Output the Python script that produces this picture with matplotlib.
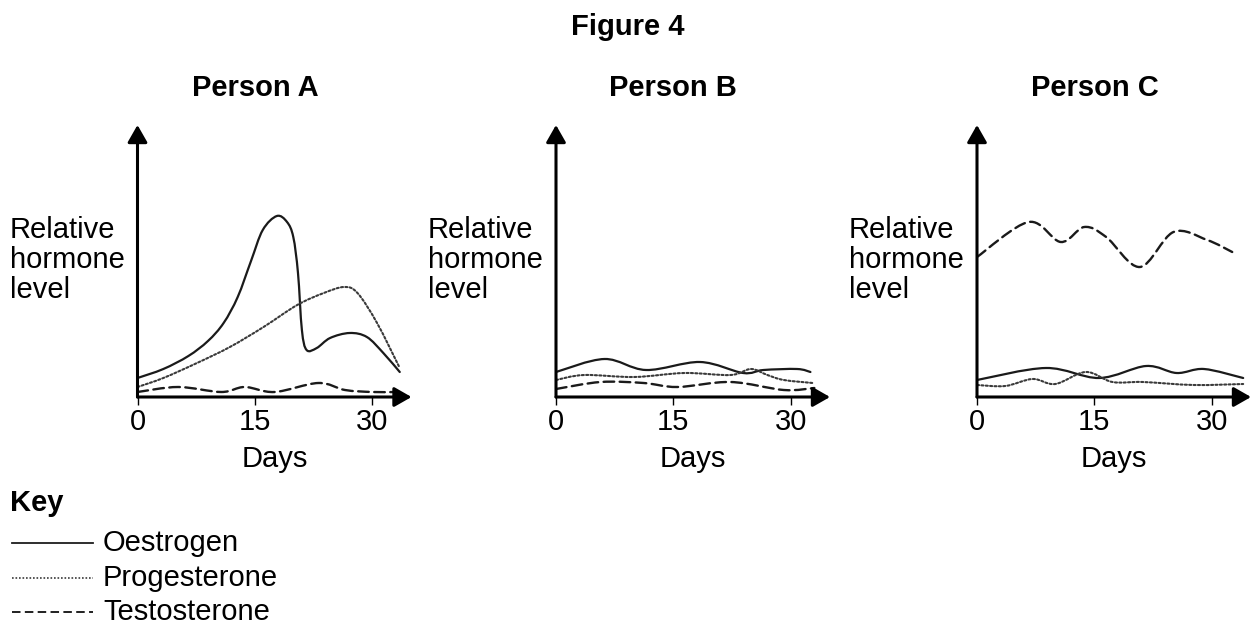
import numpy as np
import matplotlib.pyplot as plt
from matplotlib.path import Path
from matplotlib.patches import PathPatch
from matplotlib.lines import Line2D

plt.rcParams['font.family'] = ['Liberation Sans', 'DejaVu Sans']

# values (days, relative level)
persons = ['Person A', 'Person B', 'Person C']
hormones = ['Oestrogen', 'Progesterone', 'Testosterone']
day_ticks = [0, 15, 30]

a_oes_x = [0, 3.3, 6.5, 9.0, 11.0, 12.8, 14.5, 16.0, 17.8, 19.1, 19.9, 20.5, 21.0, 21.6, 22.9, 24.6, 27.1, 29.3, 31.4, 33.5]
a_oes_y = [19, 28, 41, 56, 74, 100, 136, 167, 181, 175, 160, 124, 67, 47, 49, 59, 64, 60, 44, 25]
a_pro_x = [0, 3.3, 7.6, 11.8, 16.1, 20.4, 23.8, 26.4, 28.1, 30.6, 33.5]
a_pro_y = [10, 19, 34, 50, 70, 92, 104, 110, 104, 74, 29]
a_tes_x = [0, 5.2, 10.7, 13.7, 17.5, 23.1, 26.5, 30.0, 32.9]
a_tes_y = [5, 10, 5, 10, 5, 14, 7, 5, 5]

b_oes_x = [0, 6.2, 11.5, 18.4, 23.9, 26.5, 30.8, 32.5]
b_oes_y = [25, 38, 27, 35, 24, 27, 28, 25]
b_pro_x = [0, 3.6, 10.0, 16.4, 22.3, 24.9, 27.0, 29.1, 32.8]
b_pro_y = [17, 22, 20, 24, 22, 28, 22, 17, 14]
b_tes_x = [0, 5.7, 11.2, 15.5, 22.3, 29.1, 33.0]
b_tes_y = [8, 15, 14, 10, 15, 7, 9]

c_oes_x = [0, 8.8, 15.6, 21.6, 25.5, 29.0, 34.0]
c_oes_y = [17, 29, 19, 31, 24, 28, 19]
c_pro_x = [0, 3.6, 7.1, 10.0, 13.9, 17.3, 21.2, 27.7, 34.0]
c_pro_y = [12, 11, 18, 13, 25, 15, 15, 12, 13]
c_tes_x = [0, 6.6, 10.7, 13.7, 16.5, 20.8, 25.1, 29.4, 32.6]
c_tes_y = [140, 175, 155, 170, 160, 130, 165, 157, 145]

series = [
    [(a_oes_x, a_oes_y), (a_pro_x, a_pro_y), (a_tes_x, a_tes_y)],
    [(b_oes_x, b_oes_y), (b_pro_x, b_pro_y), (b_tes_x, b_tes_y)],
    [(c_oes_x, c_oes_y), (c_pro_x, c_pro_y), (c_tes_x, c_tes_y)],
]

styles = {
    'Oestrogen': dict(linestyle='-', linewidth=1.6, edgecolor='#1a1a1a'),
    'Progesterone': dict(linestyle=(0, (1, 1.1)), linewidth=1.5, edgecolor='#3a3a3a'),
    'Testosterone': dict(linestyle=(0, (4.5, 2.3)), linewidth=1.7, edgecolor='#1a1a1a'),
}


def smooth_path(x, y):
    # smooth curve through the read points (Catmull-Rom as cubic Bezier)
    p = np.column_stack([x, y]).astype(float)
    ext = np.vstack([p[0], p, p[-1]])
    verts = [p[0]]
    codes = [Path.MOVETO]
    for i in range(len(p) - 1):
        p0, p1, p2, p3 = ext[i], ext[i + 1], ext[i + 2], ext[i + 3]
        verts += [p1 + (p2 - p0) / 6, p2 - (p3 - p1) / 6, p2]
        codes += [Path.CURVE4] * 3
    return Path(verts, codes)


W, H = 1255, 629
fig = plt.figure(figsize=(W / 100, H / 100), dpi=100)
FS = 21


def fx(x):
    return x / W


def fy(y):
    return 1 - y / H


lefts = [137.5, 556, 977]
ax_w, ax_h, ax_bottom = 274, 272, 397

fig.text(0.5, fy(27), 'Figure 4', ha='center', va='center', fontsize=FS, fontweight='bold')

for left, name, data in zip(lefts, persons, series):
    ax = fig.add_axes([fx(left), fy(ax_bottom), fx(ax_w), ax_h / H])
    ax.set_xlim(0, 35)
    ax.set_ylim(0, 272)
    for s in ax.spines.values():
        s.set_visible(False)
    ax.set_yticks([])
    ax.set_xticks(day_ticks)
    ax.tick_params(axis='x', length=6, width=1, pad=2, labelsize=FS)
    ax.set_xlabel('Days', fontsize=FS, labelpad=6.5)
    ax.patch.set_alpha(0)

    for (x, y), hname in zip(data, hormones):
        ax.add_patch(PathPatch(smooth_path(x, y), fill=False, capstyle='round', **styles[hname]))

    arrow = dict(arrowstyle='-|>,head_length=1.05,head_width=0.6', lw=2.2, color='black',
                 mutation_scale=10, shrinkA=0, shrinkB=0)
    ax.annotate('', xy=(1, 0), xytext=(0, 0), xycoords='axes fraction', arrowprops=arrow,
                annotation_clip=False)
    ax.annotate('', xy=(0, 1), xytext=(0, 0), xycoords='axes fraction', arrowprops=arrow,
                annotation_clip=False)

    ax.text(15, (ax_bottom - 88) / ax_h, name, transform=ax.get_xaxis_transform(),
            ha='center', va='center', fontsize=FS, fontweight='bold')
    fig.text(fx(left - 128), fy(260), 'Relative\nhormone\nlevel', ha='left', va='center',
             fontsize=FS, linespacing=1.1)

# key
fig.text(fx(10), fy(503), 'Key', ha='left', va='center', fontsize=FS, fontweight='bold')
for hname, yk in zip(hormones, [543, 578, 612]):
    st = styles[hname]
    fig.add_artist(Line2D([fx(12), fx(93)], [fy(yk), fy(yk)], transform=fig.transFigure,
                          linestyle=st['linestyle'], linewidth=st['linewidth'] * 0.8,
                          color=st['edgecolor']))
    fig.text(fx(103), fy(yk), hname, ha='left', va='center', fontsize=FS)

fig.savefig('out.png', dpi=100)
